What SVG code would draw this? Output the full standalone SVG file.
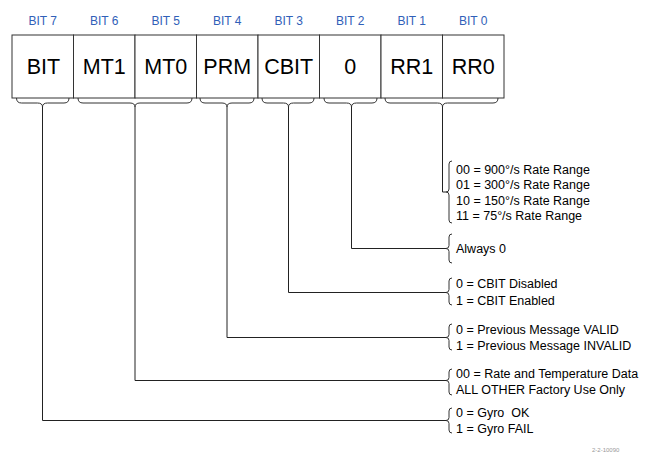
<svg xmlns="http://www.w3.org/2000/svg" width="660" height="455" viewBox="0 0 660 455">
<style>
.bitlbl{font-family:"Liberation Sans",Arial,sans-serif;font-size:12px;fill:#3060b8;text-anchor:middle}
.box{fill:#fff;stroke:#333;stroke-width:1}
.boxtxt{font-family:"Liberation Sans",Arial,sans-serif;font-size:21.5px;fill:#000;text-anchor:middle}
.desc{font-family:"Liberation Sans",Arial,sans-serif;font-size:12.5px;fill:#000;white-space:pre}
.brace{fill:none;stroke:#333;stroke-width:1}
.conn{fill:none;stroke:#222;stroke-width:1}
</style>
<rect width="660" height="455" fill="#fff"/>
<g id="bit7"><text class="bitlbl" x="42.75" y="25">BIT 7</text><rect class="box" x="12" y="35" width="61.5" height="63"/><text class="boxtxt" x="43.5" y="74">BIT</text></g>
<g id="bit6"><text class="bitlbl" x="104.25" y="25">BIT 6</text><rect class="box" x="73.5" y="35" width="61.5" height="63"/><text class="boxtxt" x="104.25" y="74">MT1</text></g>
<g id="bit5"><text class="bitlbl" x="165.75" y="25">BIT 5</text><rect class="box" x="135" y="35" width="61.5" height="63"/><text class="boxtxt" x="165.75" y="74">MT0</text></g>
<g id="bit4"><text class="bitlbl" x="227.25" y="25">BIT 4</text><rect class="box" x="196.5" y="35" width="61.5" height="63"/><text class="boxtxt" x="227.25" y="74">PRM</text></g>
<g id="bit3"><text class="bitlbl" x="288.75" y="25">BIT 3</text><rect class="box" x="258" y="35" width="61.5" height="63"/><text class="boxtxt" x="288.75" y="74">CBIT</text></g>
<g id="bit2"><text class="bitlbl" x="350.25" y="25">BIT 2</text><rect class="box" x="319.5" y="35" width="61.5" height="63"/><text class="boxtxt" x="350.25" y="74">0</text></g>
<g id="bit1"><text class="bitlbl" x="411.75" y="25">BIT 1</text><rect class="box" x="381" y="35" width="61.5" height="63"/><text class="boxtxt" x="411.75" y="74">RR1</text></g>
<g id="bit0"><text class="bitlbl" x="473.25" y="25">BIT 0</text><rect class="box" x="442.5" y="35" width="61.5" height="63"/><text class="boxtxt" x="473.25" y="74">RR0</text></g>

<g id="top-braces">
<path class="brace" d="M16.5 98 Q16.5 103 21.5 103 L37.5 103 Q42.5 103 42.5 107 Q42.5 103 47.5 103 L64 103 Q69 103 69 98"/>
<path class="brace" d="M78 98 Q78 103 83 103 L130 103 Q135 103 135 107 Q135 103 140 103 L187 103 Q192 103 192 98"/>
<path class="brace" d="M200 98 Q200 103 205 103 L222 103 Q227 103 227 107 Q227 103 232 103 L249 103 Q254 103 254 98"/>
<path class="brace" d="M262 98 Q262 103 267 103 L283.5 103 Q288.5 103 288.5 107 Q288.5 103 293.5 103 L309 103 Q314 103 314 98"/>
<path class="brace" d="M324 98 Q324 103 329 103 L346.5 103 Q351.5 103 351.5 107 Q351.5 103 356.5 103 L372 103 Q377 103 377 98"/>
<path class="brace" d="M385 98 Q385 103 390 103 L437.5 103 Q442.5 103 442.5 107 Q442.5 103 447.5 103 L493 103 Q498 103 498 98"/>
</g>

<g id="connectors">
<polyline class="conn" points="442.5,107 442.5,192 446,192"/>
<polyline class="conn" points="351.5,107 351.5,248.5 446,248.5"/>
<polyline class="conn" points="288.5,107 288.5,292.5 446,292.5"/>
<polyline class="conn" points="227,107 227,337.5 446,337.5"/>
<polyline class="conn" points="135,107 135,380.5 446,380.5"/>
<polyline class="conn" points="42.5,107 42.5,420.5 446,420.5"/>
</g>

<g id="desc-rr">
<path class="brace" d="M452 161 Q449 161 449 164 L449 189 Q449 192 446 192 Q449 192 449 195 L449 220 Q449 223 452 223"/>
<text class="desc" x="456" y="174">00 = 900°/s Rate Range</text>
<text class="desc" x="456" y="189.3">01 = 300°/s Rate Range</text>
<text class="desc" x="456" y="204.6">10 = 150°/s Rate Range</text>
<text class="desc" x="456" y="219.9">11 = 75°/s Rate Range</text>
</g>
<g id="desc-zero">
<path class="brace" d="M452 234 Q449 234 449 237 L449 245.5 Q449 248.5 446 248.5 Q449 248.5 449 251.5 L449 260 Q449 263 452 263"/>
<text class="desc" x="456" y="253">Always 0</text>
</g>
<g id="desc-cbit">
<path class="brace" d="M452 278 Q449 278 449 281 L449 289.5 Q449 292.5 446 292.5 Q449 292.5 449 295.5 L449 302 Q449 305 452 305"/>
<text class="desc" x="456" y="288">0 = CBIT Disabled</text>
<text class="desc" x="456" y="304.5">1 = CBIT Enabled</text>
</g>
<g id="desc-prm">
<path class="brace" d="M452 324 Q449 324 449 327 L449 334.5 Q449 337.5 446 337.5 Q449 337.5 449 340.5 L449 347 Q449 350 452 350"/>
<text class="desc" x="456" y="333.5">0 = Previous Message VALID</text>
<text class="desc" x="456" y="350">1 = Previous Message INVALID</text>
</g>
<g id="desc-mt">
<path class="brace" d="M452 369 Q449 369 449 372 L449 377.5 Q449 380.5 446 380.5 Q449 380.5 449 383.5 L449 392 Q449 395 452 395"/>
<text class="desc" x="456" y="377.5">00 = Rate and Temperature Data</text>
<text class="desc" x="456" y="394">ALL OTHER Factory Use Only</text>
</g>
<g id="desc-bit">
<path class="brace" d="M452 408 Q449 408 449 411 L449 417.5 Q449 420.5 446 420.5 Q449 420.5 449 423.5 L449 430 Q449 433 452 433"/>
<text class="desc" x="456" y="416.5">0 = Gyro  OK</text>
<text class="desc" x="456" y="433">1 = Gyro FAIL</text>
</g>
<text x="592" y="452" font-family="Liberation Sans,Arial,sans-serif" font-size="6" fill="#999">2-2-10090</text>
</svg>
